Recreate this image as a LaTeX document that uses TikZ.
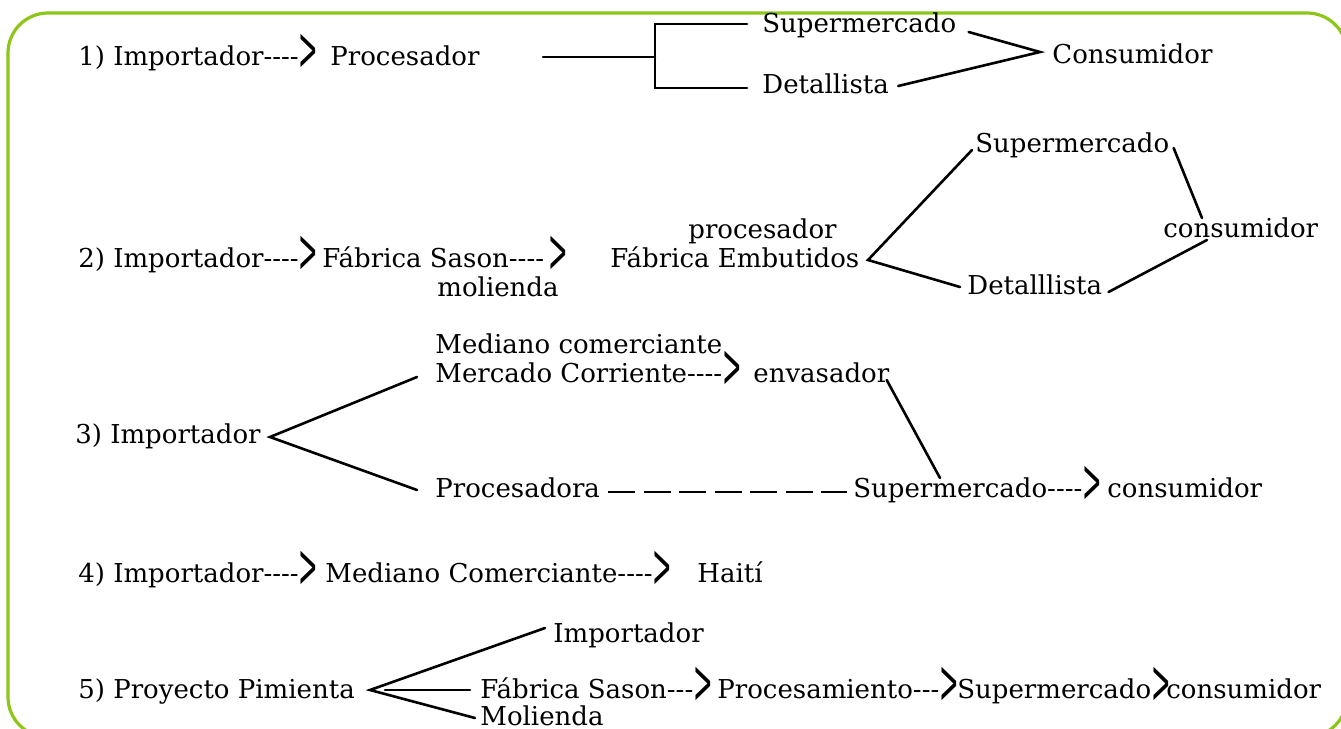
\documentclass[tikz,border=0pt]{standalone}
\usepackage{fontspec}
\usepackage{graphicx}
\setmainfont{DejaVu Serif}
\usetikzlibrary{calc}

\definecolor{framegreen}{RGB}{141,198,24}
\newcommand{\chev}{\raisebox{-2.5pt}{\scalebox{0.9}[2.4]{>}}}

\tikzset{
  lbl/.style={inner sep=0pt, anchor=base west, font=\fontsize{13}{15}\selectfont},
  link/.style={line width=1.3pt, line cap=round},
  frame/.style={draw=framegreen, line width=1.6pt, rounded corners=20pt}
}

\begin{document}
\begin{tikzpicture}[x=0.5pt,y=-0.5pt]
	\useasboundingbox (0,0) rectangle (1341,729);
	%frame
	\draw[frame] (8,13) rectangle (1347,737);
	
	%row 1
	\node[lbl] (imp1)  at (78,65)   {1) Importador-{}-{}-{}-\chev};
	\node[lbl] (proc1) at (330,65)  {Procesador};
	\node[lbl] (sup1)  at (762,32)  {Supermercado};
	\node[lbl] (det1)  at (762,93)  {Detallista};
	\node[lbl] (cons1) at (1052,63) {Consumidor};
	\coordinate (b1) at (543,57);
	\coordinate (j1) at (655,57);
	\coordinate (t1) at (747,24);
	\coordinate (u1) at (747,88);
	\coordinate (v1) at (1040,52);
	\draw[link] (b1) -- (j1);
	\draw[link] (t1) -| (u1 -| j1) -- (u1);
	\draw[link] ($(sup1.base east)+(12,0)$) -- (v1) -- ($(det1.base east)+(9,-7)$);
	
	%row 2
	\node[lbl] (imp2)  at (78,267)   {2) Importador-{}-{}-{}-\chev};
	\node[lbl] (fab2)  at (322,267)  {Fábrica Sason-{}-{}-{}-\kern2pt\chev};
	\node[lbl] (mol2)  at (437,296)  {molienda};
	\node[lbl] (proc2) at (688,238)  {procesador};
	\node[lbl] (emb2)  at (610,267)  {Fábrica Embutidos};
	\node[lbl] (sup2)  at (975,152)  {Supermercado};
	\node[lbl] (cons2) at (1163,237) {consumidor};
	\node[lbl] (det2)  at (967,294)  {Detalllista};
	\coordinate (v2) at (868,260);
	\draw[link] ($(sup2.base west)+(-3,-2)$) -- (v2) -- ($(det2.base west)+(-7,-7)$);
	\draw[link] ($(sup2.base east)+(4,-4)$) -- ($(cons2.base west)+(39,-19)$);
	\draw[link] ($(cons2.base west)+(44,3)$) -- ($(det2.base east)+(6,-2)$);
	
	%row 3
	\node[lbl] (imp3) at (75,443)   {3) Importador};
	\node[lbl] (med3) at (435,353)  {Mediano comerciante};
	\node[lbl] (mer3) at (435,382)  {Mercado Corriente-{}-{}-{}-\chev};
	\node[lbl] (env3) at (753,382)  {envasador};
	\node[lbl] (pro3) at (435,497)  {Procesadora};
	\node[lbl] (sup3) at (853,497)  {Supermercado-{}-{}-{}-\chev};
	\node[lbl] (con3) at (1107,497) {consumidor};
	\coordinate (v3) at (270,437);
	\draw[link] ($(mer3.base west)+(-18,-5)$) -- (v3) -- ($(pro3.base west)+(-18,-7)$);
	\draw[link] ($(env3.base east)+(-3,-2)$) -- ($(sup3.base west)+(87,-19)$);
	\draw[link, line cap=butt, dash pattern=on 13.5pt off 4.25pt]
		($(pro3.base east)+(8,-5)$) -- ($(sup3.base west)+(-6,-5)$);
	
	%row 4
	\node[lbl] (imp4) at (78,582)  {4) Importador-{}-{}-{}-\chev};
	\node[lbl] (med4) at (325,582) {Mediano Comerciante-{}-{}-{}-\chev};
	\node[lbl] (hai4) at (697,582) {Haití};
	
	%row 5
	\node[lbl] (pp5)   at (78,698)   {5) Proyecto Pimienta};
	\node[lbl] (imp5)  at (553,642)  {Importador};
	\node[lbl] (fab5)  at (480,698)  {Fábrica Sason-{}-{}-\chev};
	\node[lbl] (proc5) at (717,698)  {Procesamiento-{}-{}-\chev};
	\node[lbl] (sup5)  at (957,698)  {Supermercado\chev};
	\node[lbl] (con5)  at (1166,698) {consumidor};
	\node[lbl] (mol5)  at (480,725)  {Molienda};
	\coordinate (v5) at (370,690);
	\draw[link] ($(imp5.base west)+(-8,-14)$) -- (v5) -- ($(mol5.base west)+(-5,-7)$);
	\draw[link] ($(v5)+(15,0)$) -- ($(fab5.base west)+(-10,-8)$);
\end{tikzpicture}
\end{document}
